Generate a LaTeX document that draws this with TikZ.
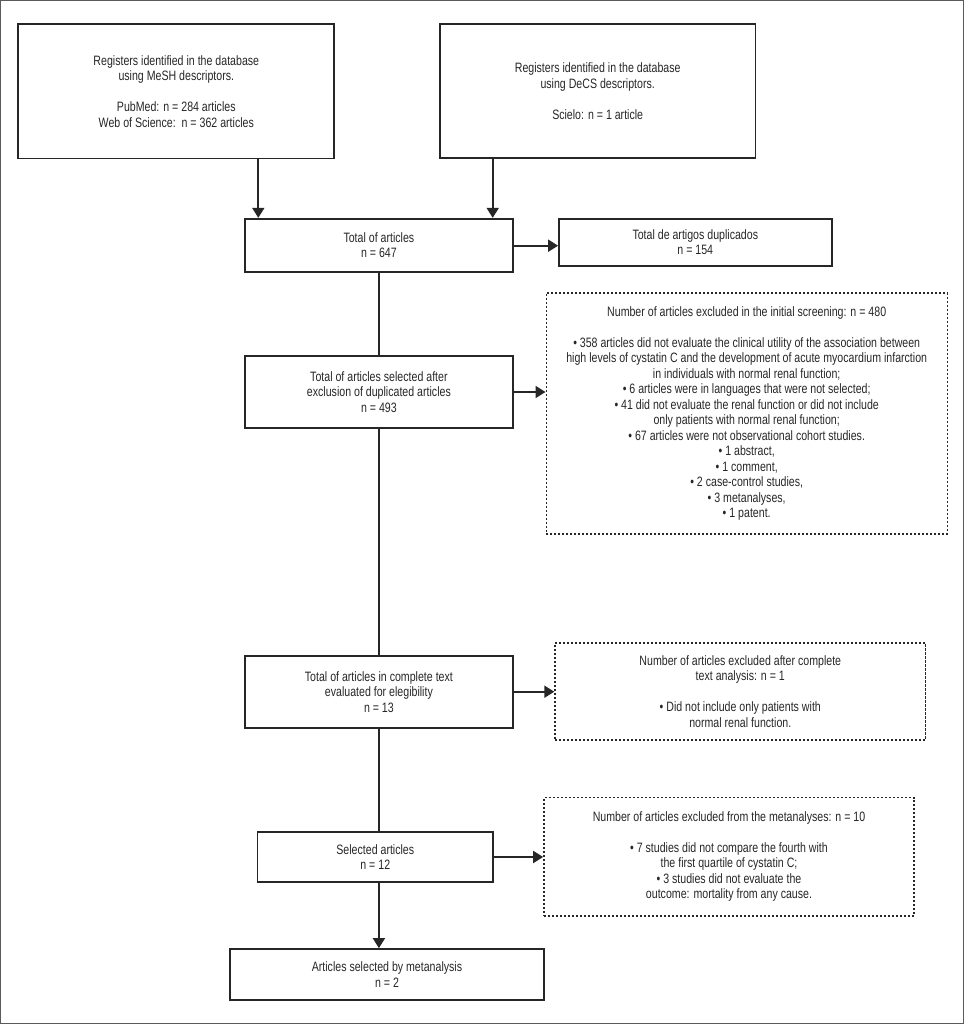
\documentclass[tikz,border=0pt]{standalone}
\usepackage{fontspec}
\setmainfont{Liberation Sans}[FakeStretch=0.78]
\usetikzlibrary{arrows.meta}
\definecolor{ink}{HTML}{262626}
\definecolor{frame}{HTML}{5A5A5A}
\begin{document}
\begin{tikzpicture}[x=1pt,y=-1pt,
  box/.style={draw=ink, line width=1.7pt, inner sep=0pt, align=center,
    font=\fontsize{13.6}{15.5}\selectfont, text=ink},
  dbox/.style={box, line width=1.4pt, dash pattern=on 2.2pt off 1.8pt},
  arr/.style={draw=ink, line width=1.8pt, -{Triangle[length=10pt,width=12pt]}},
  ln/.style={draw=ink, line width=1.8pt}]
\useasboundingbox (0,0) rectangle (965,1024);
\draw[frame, line width=1.2pt] (0.8,0.8) rectangle (963.8,1023.2);

\node[box, minimum width=316pt, minimum height=134.7pt] (b1) at (176.3,91.3)
  {Registers identified in the database\\using MeSH descriptors.\\[15.5pt]PubMed: n = 284 articles\\Web of Science:\ \ n = 362 articles};
\node[box, minimum width=315.3pt, minimum height=134.3pt] (b2) at (597.7,91.2)
  {Registers identified in the database\\using DeCS descriptors.\\[15.5pt]Scielo: n = 1 article};
\node[box, minimum width=268pt, minimum height=53pt] (total) at (378.9,245.2)
  {Total of articles\\n = 647};
\node[box, minimum width=272.7pt, minimum height=46.7pt] (dup) at (695.3,242.3)
  {Total de artigos duplicados\\n = 154};
\node[box, minimum width=268pt, minimum height=72pt] (excl) at (378.9,392)
  {Total of articles selected after\\exclusion of duplicated articles\\n = 493};
\node[dbox, minimum width=401pt, minimum height=241pt] (d1) at (746.7,413.5)
  {Number of articles excluded in the initial screening: n = 480\\[15.5pt]
   • 358 articles did not evaluate the clinical utility of the association between\\
   high levels of cystatin C and the development of acute myocardium infarction\\
   in individuals with normal renal function;\\
   • 6 articles were in languages that were not selected;\\
   • 41 did not evaluate the renal function or did not include\\
   only patients with normal renal function;\\
   • 67 articles were not observational cohort studies.\\
   • 1 abstract,\\
   • 1 comment,\\
   • 2 case-control studies,\\
   • 3 metanalyses,\\
   • 1 patent.};
\node[box, minimum width=268pt, minimum height=72pt] (full) at (378.9,691.7)
  {Total of articles in complete text\\evaluated for elegibility\\n = 13};
\node[dbox, minimum width=370.6pt, minimum height=97pt] (d2) at (740.3,691.5)
  {Number of articles excluded after complete\\text analysis: n = 1\\[15.5pt]
   • Did not include only patients with\\normal renal function.};
\node[box, minimum width=235.4pt, minimum height=50.3pt] (sel) at (375.3,857)
  {Selected articles\\n = 12};
\node[dbox, minimum width=370.3pt, minimum height=118.3pt] (d3) at (729,856.7)
  {Number of articles excluded from the metanalyses: n = 10\\[15.5pt]
   • 7 studies did not compare the fourth with\\
   the first quartile of cystatin C;\\
   • 3 studies did not evaluate the\\
   outcome: mortality from any cause.};
\node[box, minimum width=314pt, minimum height=51pt] (fin) at (387,974.5)
  {Articles selected by metanalysis\\n = 2};

\coordinate (xa) at (258.3,0);
\coordinate (xb) at (492.7,0);
\coordinate (xm) at (378.9,0);

\draw[arr] (b1.south -| xa) -- (total.north -| xa);
\draw[arr] (b2.south -| xb) -- (total.north -| xb);
\draw[arr] (total.east |- 0,245.7) -- (dup.west |- 0,245.7);
\draw[ln] (total.south -| xm) -- (excl.north -| xm);
\draw[arr] (excl.east) -- (excl.east -| d1.west);
\draw[ln] (excl.south -| xm) -- (full.north -| xm);
\draw[arr] (full.east) -- (full.east -| d2.west);
\draw[ln] (full.south -| xm) -- (sel.north -| xm);
\draw[arr] (sel.east) -- (sel.east -| d3.west);
\draw[arr] (sel.south -| xm) -- (fin.north -| xm);
\end{tikzpicture}
\end{document}
